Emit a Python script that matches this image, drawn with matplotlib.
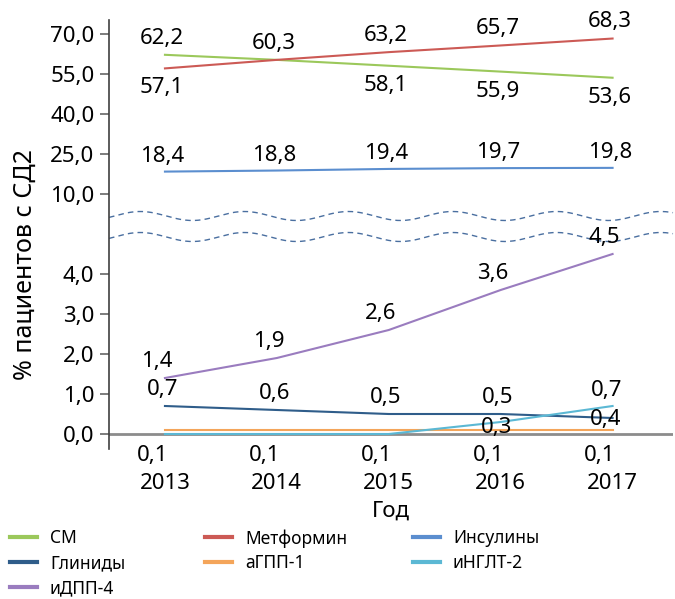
import numpy as np
from matplotlib import pyplot as plt
from matplotlib.lines import Line2D

plt.rcParams['font.family'] = ['Noto Sans', 'DejaVu Sans']

# data (% of T2DM patients)
years = [2013, 2014, 2015, 2016, 2017]
sm = [62.2, 60.3, 58.1, 55.9, 53.6]
metformin = [57.1, 60.3, 63.2, 65.7, 68.3]
insulin = [18.4, 18.8, 19.4, 19.7, 19.8]
glinides = [0.7, 0.6, 0.5, 0.5, 0.4]
agpp1 = [0.1, 0.1, 0.1, 0.1, 0.1]
ingl2 = [0.0, 0.0, 0.0, 0.3, 0.7]
idpp4 = [1.4, 1.9, 2.6, 3.6, 4.5]

names = ['СМ', 'Метформин', 'Инсулины', 'Глиниды', 'аГПП-1', 'иНГЛТ-2', 'иДПП-4']
colors = ['#9bc85b', '#cc5a55', '#5b8ecf', '#2f5d8a', '#f4a55a', '#5bb8d4', '#9a7cbf']
yticks = [0, 1, 2, 3, 4, 10, 25, 40, 55, 70]


# broken axis: 0..5 linear, 5..10 squeezed, above 10 at 15 per unit
def fwd(v):
    v = np.asarray(v, float)
    return np.where(v <= 5, v, np.where(v <= 10, 5 + (v - 5) / 5, 6 + (v - 10) / 15))


def inv(d):
    d = np.asarray(d, float)
    return np.where(d <= 5, d, np.where(d <= 6, 5 + (d - 5) * 5, 10 + (d - 6) * 15))


fig = plt.figure(figsize=(6.75, 5.99), dpi=100)
ax = fig.add_axes([109 / 675, 1 - 449 / 599, (673 - 109) / 675, (449 - 20) / 599])
ax.set_yscale('function', functions=(fwd, inv))
ax.set_ylim(-0.375, inv(10.35))
ax.set_xlim(2012.5, 2017.54)

series = [sm, metformin, insulin, glinides, agpp1, ingl2, idpp4]
for vals, c in zip(series, colors):
    ax.plot(years, vals, color=c, lw=1.5)

ax.axhline(0, color='#8c8c8c', lw=2, zorder=1)

# wavy break marks
xw = np.linspace(2012.5, 2017.54, 400)
ph = np.cos(2 * np.pi * (xw - 2012.78) / 0.93)
for c0 in [5.45, 4.925]:
    ax.plot(xw, inv(c0 + 0.1125 * ph), color='#4a6fa0', lw=1, ls=(0, (4, 3)),
            clip_on=False)


def fmt(v):
    return ('%.1f' % v).replace('.', ',')


def lab(x, v, dx, dy):
    ax.annotate(fmt(v), (x, v), xytext=(dx, dy), textcoords='offset points',
                ha='center', va='center', fontsize=16)


for i, x in enumerate(years):
    # top pair: label above the higher line, below the lower one
    if sm[i] >= metformin[i]:
        lab(x, sm[i], -2, 12)
    else:
        lab(x, sm[i], -2, -14)
    if metformin[i] > sm[i]:
        lab(x, metformin[i], -2, 12)
    elif metformin[i] < sm[i]:
        lab(x, metformin[i], -2, -14)
    lab(x, insulin[i], -2, 11)
    lab(x, idpp4[i], -6, 12)
    lab(x, agpp1[i], -9, -18)
    if i < 4:
        lab(x, glinides[i], -2, 12)
    else:
        lab(x, glinides[i], -5, -1)
lab(2016, ingl2[3], -3, -4)
lab(2017, ingl2[4], -4, 11.5)

ax.set_yticks(yticks)
ax.set_yticklabels([fmt(v) for v in yticks])
ax.set_xticks(years)
ax.set_xticklabels([str(y) for y in years])
ax.tick_params(axis='y', length=6.5, width=1.2, color='#666666', labelsize=16, pad=4)
ax.tick_params(axis='x', length=0, labelsize=16, pad=17)
ax.minorticks_off()
for s in ['top', 'right', 'bottom']:
    ax.spines[s].set_visible(False)
ax.spines['left'].set_color('#404040')
ax.spines['left'].set_linewidth(1.2)

ax.set_xlabel('Год', fontsize=16, labelpad=5)
ax.set_ylabel('% пациентов с СД2', fontsize=18)
ax.yaxis.set_label_coords(-0.126, 0.429)

# legend: three columns placed separately
handles = [Line2D([], [], color=c, lw=3) for c in colors]
cols = [[0, 3, 6], [1, 4], [2, 5]]
col_x = [10, 205, 413]
for idx, x0 in zip(cols, col_x):
    fig.legend([handles[i] for i in idx], [names[i] for i in idx],
               loc='upper left', bbox_to_anchor=(x0 / 675, 1 - 529 / 599),
               frameon=False, fontsize=12.5, handlelength=1.55, handletextpad=0.75,
               labelspacing=0.4, borderpad=0, borderaxespad=0)

fig.savefig('out.png', dpi=100)
